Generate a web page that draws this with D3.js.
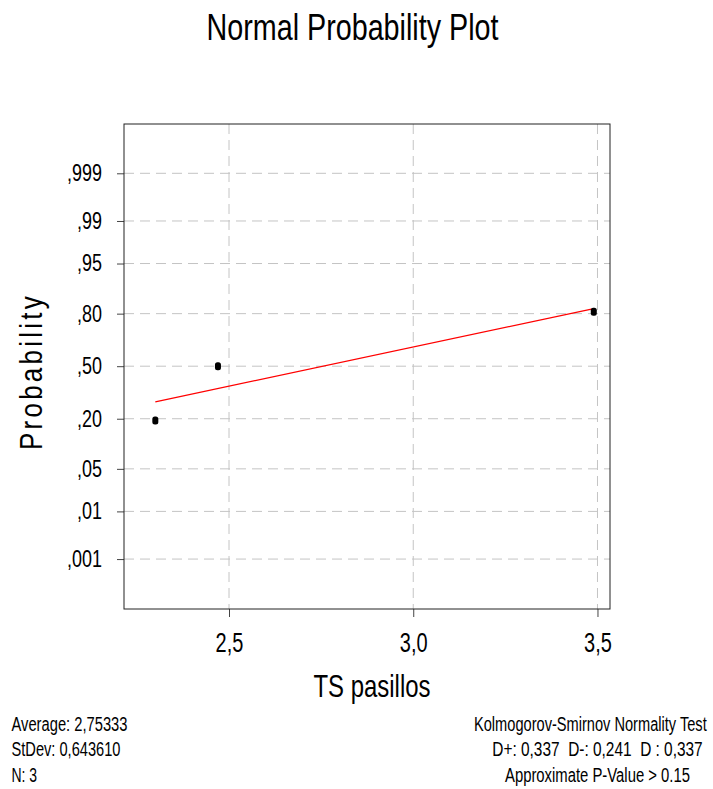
<!DOCTYPE html>
<html>
<head>
<meta charset="utf-8">
<script src="https://cdn.jsdelivr.net/npm/d3@7"></script>
<style>
  body { margin: 0; background: #fff; }
  text { font-family: "Liberation Sans", Arial, sans-serif; fill: #000; }
</style>
</head>
<body>
<svg id="mainsvg" width="713" height="789"></svg>
<script>
// 数据
const xTicks = [2.5, 3.0, 3.5];
const xTickLabels = ["2,5", "3,0", "3,5"];
const probTicks = [0.001, 0.01, 0.05, 0.2, 0.5, 0.8, 0.95, 0.99, 0.999];
const probTickLabels = [",001", ",01", ",05", ",20", ",50", ",80", ",95", ",99", ",999"];
const dataX = [2.30, 2.47, 3.49];
const dataP = [0.192, 0.5, 0.808];
const fitX = [2.30, 3.49];
const fitP = [0.284, 0.822];
const statsLeft = ["Average: 2,75333", "StDev: 0,643610", "N: 3"];
const statsRight = ["Kolmogorov-Smirnov Normality Test", "D+: 0,337  D-: 0,241  D : 0,337", "Approximate P-Value > 0.15"];

// 正态分位数 (Acklam)
function probit(p) {
  const a = [-3.969683028665376e+01, 2.209460984245205e+02, -2.759285104469687e+02, 1.383577518672690e+02, -3.066479806614716e+01, 2.506628277459239e+00];
  const b = [-5.447609879822406e+01, 1.615858368580409e+02, -1.556989798598866e+02, 6.680131188771972e+01, -1.328068155288572e+01];
  const c = [-7.784894002430293e-03, -3.223964580411365e-01, -2.400758277161838e+00, -2.549671669166390e+00, 4.374664141464968e+00, 2.938163982698783e+00];
  const d = [7.784695709041462e-03, 3.224671290700398e-01, 2.445134137142996e+00, 3.754408661907416e+00];
  const pl = 0.02425;
  let q, r;
  if (p < pl) {
    q = Math.sqrt(-2 * Math.log(p));
    return (((((c[0]*q+c[1])*q+c[2])*q+c[3])*q+c[4])*q+c[5]) / ((((d[0]*q+d[1])*q+d[2])*q+d[3])*q+1);
  } else if (p <= 1 - pl) {
    q = p - 0.5; r = q * q;
    return (((((a[0]*r+a[1])*r+a[2])*r+a[3])*r+a[4])*r+a[5])*q / (((((b[0]*r+b[1])*r+b[2])*r+b[3])*r+b[4])*r+1);
  } else {
    q = Math.sqrt(-2 * Math.log(1 - p));
    return -(((((c[0]*q+c[1])*q+c[2])*q+c[3])*q+c[4])*q+c[5]) / ((((d[0]*q+d[1])*q+d[2])*q+d[3])*q+1);
  }
}

// 窄体字: 压缩文本宽度
function narrow(sel, ratio) {
  sel.each(function () {
    const w = this.getComputedTextLength();
    d3.select(this).attr("textLength", w * ratio).attr("lengthAdjust", "spacingAndGlyphs");
  });
}

const svg = d3.select("#mainsvg");
const margin = { top: 124, right: 103, bottom: 180, left: 124 };
const innerWidth = +svg.attr("width") - margin.left - margin.right;
const innerHeight = +svg.attr("height") - margin.top - margin.bottom;

const x = d3.scaleLinear().domain([2.215, 3.534]).range([0, innerWidth]);
const y = d3.scaleLinear().domain([-3.89, 3.88]).range([innerHeight, 0]);

const g = svg.append("g").attr("transform", `translate(${margin.left},${margin.top})`);

// 网格线
g.append("g")
  .selectAll("line")
  .data(xTicks)
  .join("line")
  .attr("x1", d => x(d)).attr("x2", d => x(d))
  .attr("y1", 0).attr("y2", innerHeight)
  .attr("stroke", "#c4c4c4")
  .attr("stroke-dasharray", "10,6");

g.append("g")
  .selectAll("line")
  .data(probTicks)
  .join("line")
  .attr("x1", 0).attr("x2", innerWidth)
  .attr("y1", d => y(probit(d))).attr("y2", d => y(probit(d)))
  .attr("stroke", "#c4c4c4")
  .attr("stroke-dasharray", "10,6");

// 坐标轴
const xAxis = d3.axisBottom(x)
  .tickValues(xTicks)
  .tickFormat((d, i) => xTickLabels[i])
  .tickSize(8)
  .tickPadding(16)
  .tickSizeOuter(0);

const yAxis = d3.axisLeft(y)
  .tickValues(probTicks.map(probit))
  .tickFormat((d, i) => probTickLabels[i])
  .tickSize(7)
  .tickPadding(15)
  .tickSizeOuter(0);

const xg = g.append("g").attr("transform", `translate(0,${innerHeight})`).call(xAxis);
const yg = g.append("g").call(yAxis);
[xg, yg].forEach(a => {
  a.attr("font-family", null).attr("font-size", null);
  a.select(".domain").remove();
  a.selectAll(".tick line").attr("stroke", "#444");
});
xg.selectAll(".tick text").attr("font-size", 27).call(narrow, 0.74);
yg.selectAll(".tick text").attr("font-size", 23).call(narrow, 0.78);

// 边框
g.append("rect")
  .attr("width", innerWidth)
  .attr("height", innerHeight)
  .attr("fill", "none")
  .attr("stroke", "#222");

// 拟合线
const line = d3.line().x(d => x(d[0])).y(d => y(probit(d[1])));
g.append("path")
  .datum(fitX.map((v, i) => [v, fitP[i]]))
  .attr("d", line)
  .attr("fill", "none")
  .attr("stroke", "#ff0000")
  .attr("stroke-width", 1.2);

// 数据点
g.append("g")
  .selectAll("rect")
  .data(dataX.map((v, i) => [v, dataP[i]]))
  .join("rect")
  .attr("x", d => x(d[0]) - 3)
  .attr("y", d => y(probit(d[1])) - 4)
  .attr("width", 6)
  .attr("height", 8)
  .attr("rx", 2.5)
  .attr("fill", "#000");

// 标题
svg.append("text")
  .attr("x", 352.5)
  .attr("y", 39.5)
  .attr("text-anchor", "middle")
  .attr("font-size", 37)
  .attr("textLength", 292)
  .attr("lengthAdjust", "spacingAndGlyphs")
  .text("Normal Probability Plot");

svg.append("text")
  .attr("x", 372)
  .attr("y", 697)
  .attr("text-anchor", "middle")
  .attr("font-size", 32)
  .attr("textLength", 117)
  .attr("lengthAdjust", "spacingAndGlyphs")
  .text("TS pasillos");

svg.append("text")
  .attr("transform", "translate(42,371.5) rotate(-90)")
  .attr("text-anchor", "middle")
  .attr("font-size", 32)
  .attr("letter-spacing", 4)
  .attr("textLength", 157)
  .attr("lengthAdjust", "spacingAndGlyphs")
  .text("Probability");

// 统计信息
const leftW = [116, 109, 25.6];
svg.append("g")
  .selectAll("text")
  .data(statsLeft)
  .join("text")
  .attr("x", 11.5)
  .attr("y", (d, i) => 731 + i * 25.4)
  .attr("font-size", 19.5)
  .attr("textLength", (d, i) => leftW[i])
  .attr("lengthAdjust", "spacingAndGlyphs")
  .text(d => d);

const rightX = [474, 492.3, 505];
const rightW = [232.7, 210.4, 185];
svg.append("g")
  .selectAll("text")
  .data(statsRight)
  .join("text")
  .attr("x", (d, i) => rightX[i])
  .attr("y", (d, i) => 731 + i * 25.4)
  .attr("font-size", 19.5)
  .attr("xml:space", "preserve")
  .style("white-space", "pre")
  .attr("textLength", (d, i) => rightW[i])
  .attr("lengthAdjust", "spacingAndGlyphs")
  .text(d => d);
</script>
</body>
</html>
